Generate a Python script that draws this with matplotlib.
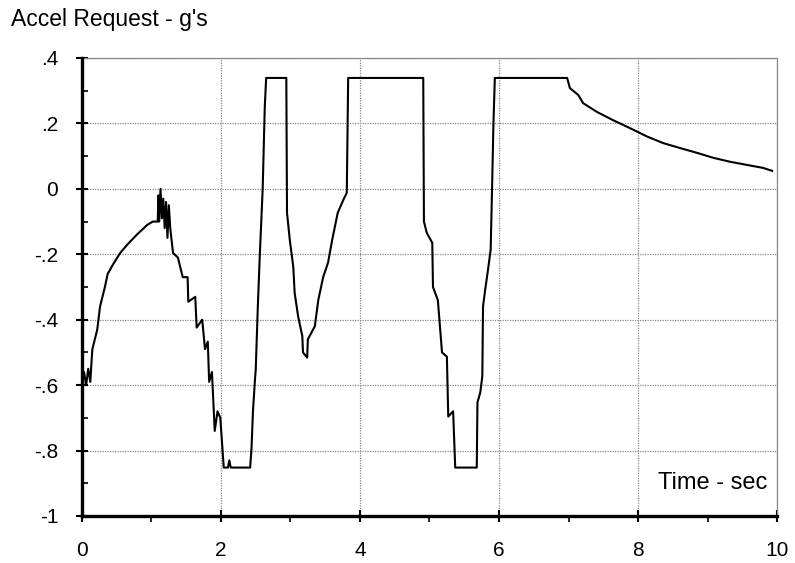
import numpy as np
import matplotlib.pyplot as plt
from matplotlib.ticker import MultipleLocator

plt.rcParams['font.family'] = ['Liberation Sans', 'DejaVu Sans']

# Accel request trace (time in sec, accel in g's)
t = [0.00, 0.03, 0.06, 0.09, 0.12, 0.14, 0.15, 0.22, 0.26, 0.33, 0.37, 0.45,
     0.55, 0.65, 0.79, 0.94, 1.02, 1.09,
     1.10, 1.11, 1.13, 1.15, 1.17, 1.19, 1.21, 1.23, 1.25, 1.27,
     1.31, 1.38, 1.45, 1.52, 1.53, 1.63, 1.65, 1.73, 1.77, 1.81, 1.83, 1.87,
     1.91, 1.95, 1.99, 2.04, 2.10, 2.12, 2.14, 2.42,
     2.44, 2.46, 2.49, 2.50, 2.53, 2.56, 2.60, 2.63, 2.65, 2.94,
     2.95, 2.99, 3.04, 3.06, 3.11, 3.17, 3.18, 3.24, 3.25, 3.35, 3.40, 3.47,
     3.54, 3.60, 3.68, 3.76, 3.81, 3.83, 4.91,
     4.92, 4.96, 5.04, 5.05, 5.12, 5.18, 5.25, 5.27, 5.34, 5.37, 5.68,
     5.69, 5.73, 5.76, 5.77, 5.80, 5.84, 5.88, 5.90, 5.92, 5.94, 6.98,
     7.02, 7.14, 7.21, 7.41, 7.64, 7.88, 8.13, 8.36, 8.60, 8.85, 9.08, 9.32,
     9.57, 9.80, 9.93]
accel = [-0.60, -0.56, -0.60, -0.55, -0.59, -0.52, -0.49, -0.43, -0.36, -0.30, -0.26, -0.23,
         -0.196, -0.171, -0.14, -0.11, -0.10, -0.10,
         -0.02, -0.10, 0.00, -0.09, -0.03, -0.12, -0.04, -0.15, -0.05, -0.12,
         -0.196, -0.21, -0.27, -0.27, -0.345, -0.33, -0.424, -0.40, -0.49, -0.467, -0.59, -0.56,
         -0.74, -0.68, -0.70, -0.852, -0.852, -0.83, -0.852, -0.852,
         -0.79, -0.68, -0.58, -0.553, -0.36, -0.195, 0.00, 0.25, 0.339, 0.339,
         -0.073, -0.156, -0.238, -0.318, -0.39, -0.45, -0.50, -0.516, -0.46, -0.42, -0.34, -0.27,
         -0.226, -0.156, -0.073, -0.034, -0.012, 0.339, 0.339,
         -0.10, -0.134, -0.165, -0.30, -0.34, -0.50, -0.513, -0.696, -0.68, -0.852, -0.852,
         -0.653, -0.623, -0.573, -0.36, -0.31, -0.25, -0.186, 0.00, 0.20, 0.339, 0.339,
         0.308, 0.287, 0.262, 0.235, 0.21, 0.186, 0.16, 0.14, 0.125, 0.11, 0.095, 0.083,
         0.073, 0.064, 0.055]

x_ticks = [0, 2, 4, 6, 8, 10]
x_tick_labels = ['0', '2', '4', '6', '8', '10']
y_ticks = [-1, -0.8, -0.6, -0.4, -0.2, 0, 0.2, 0.4]
y_tick_labels = ['-1', '-.8', '-.6', '-.4', '-.2', '0', '.2', '.4']

fig = plt.figure(figsize=(7.95, 5.63), dpi=100)
ax = fig.add_axes([0.1031, 0.0835, 0.8743, 0.8135])

ax.plot(t, accel, color='black', linewidth=1.5)

ax.set_xlim(0, 10)
ax.set_ylim(-1, 0.4)
ax.set_xticks(x_ticks)
ax.set_xticklabels(x_tick_labels)
ax.set_yticks(y_ticks)
ax.set_yticklabels(y_tick_labels)
ax.xaxis.set_minor_locator(MultipleLocator(1))
ax.yaxis.set_minor_locator(MultipleLocator(0.1))

# dotted grey grid, thick black left/bottom axes
ax.grid(True, which='major', color='#888888', linestyle=(0, (1, 1)), linewidth=0.9)
for side in ['top', 'right']:
    ax.spines[side].set_color('#888888')
    ax.spines[side].set_linestyle((0, (1, 1)))
    ax.spines[side].set_linewidth(0.9)
for side in ['left', 'bottom']:
    ax.spines[side].set_linewidth(2.4)
    ax.spines[side].set_zorder(3)

ax.tick_params(axis='both', which='major', direction='inout', length=8, width=1.5,
               labelsize=15)
ax.tick_params(axis='y', which='major', pad=13)
ax.tick_params(axis='x', which='major', pad=14)
ax.tick_params(axis='y', which='minor', direction='in', length=4, width=1.2)
ax.tick_params(axis='x', which='minor', direction='out', length=4, width=1.2)

fig.text(0.014, 0.9645, "Accel Request - g's", fontsize=16.5, ha='left', va='center')
ax.text(9.86, -0.898, 'Time - sec', fontsize=17, ha='right', va='center')

fig.savefig('out.png', dpi=100)
